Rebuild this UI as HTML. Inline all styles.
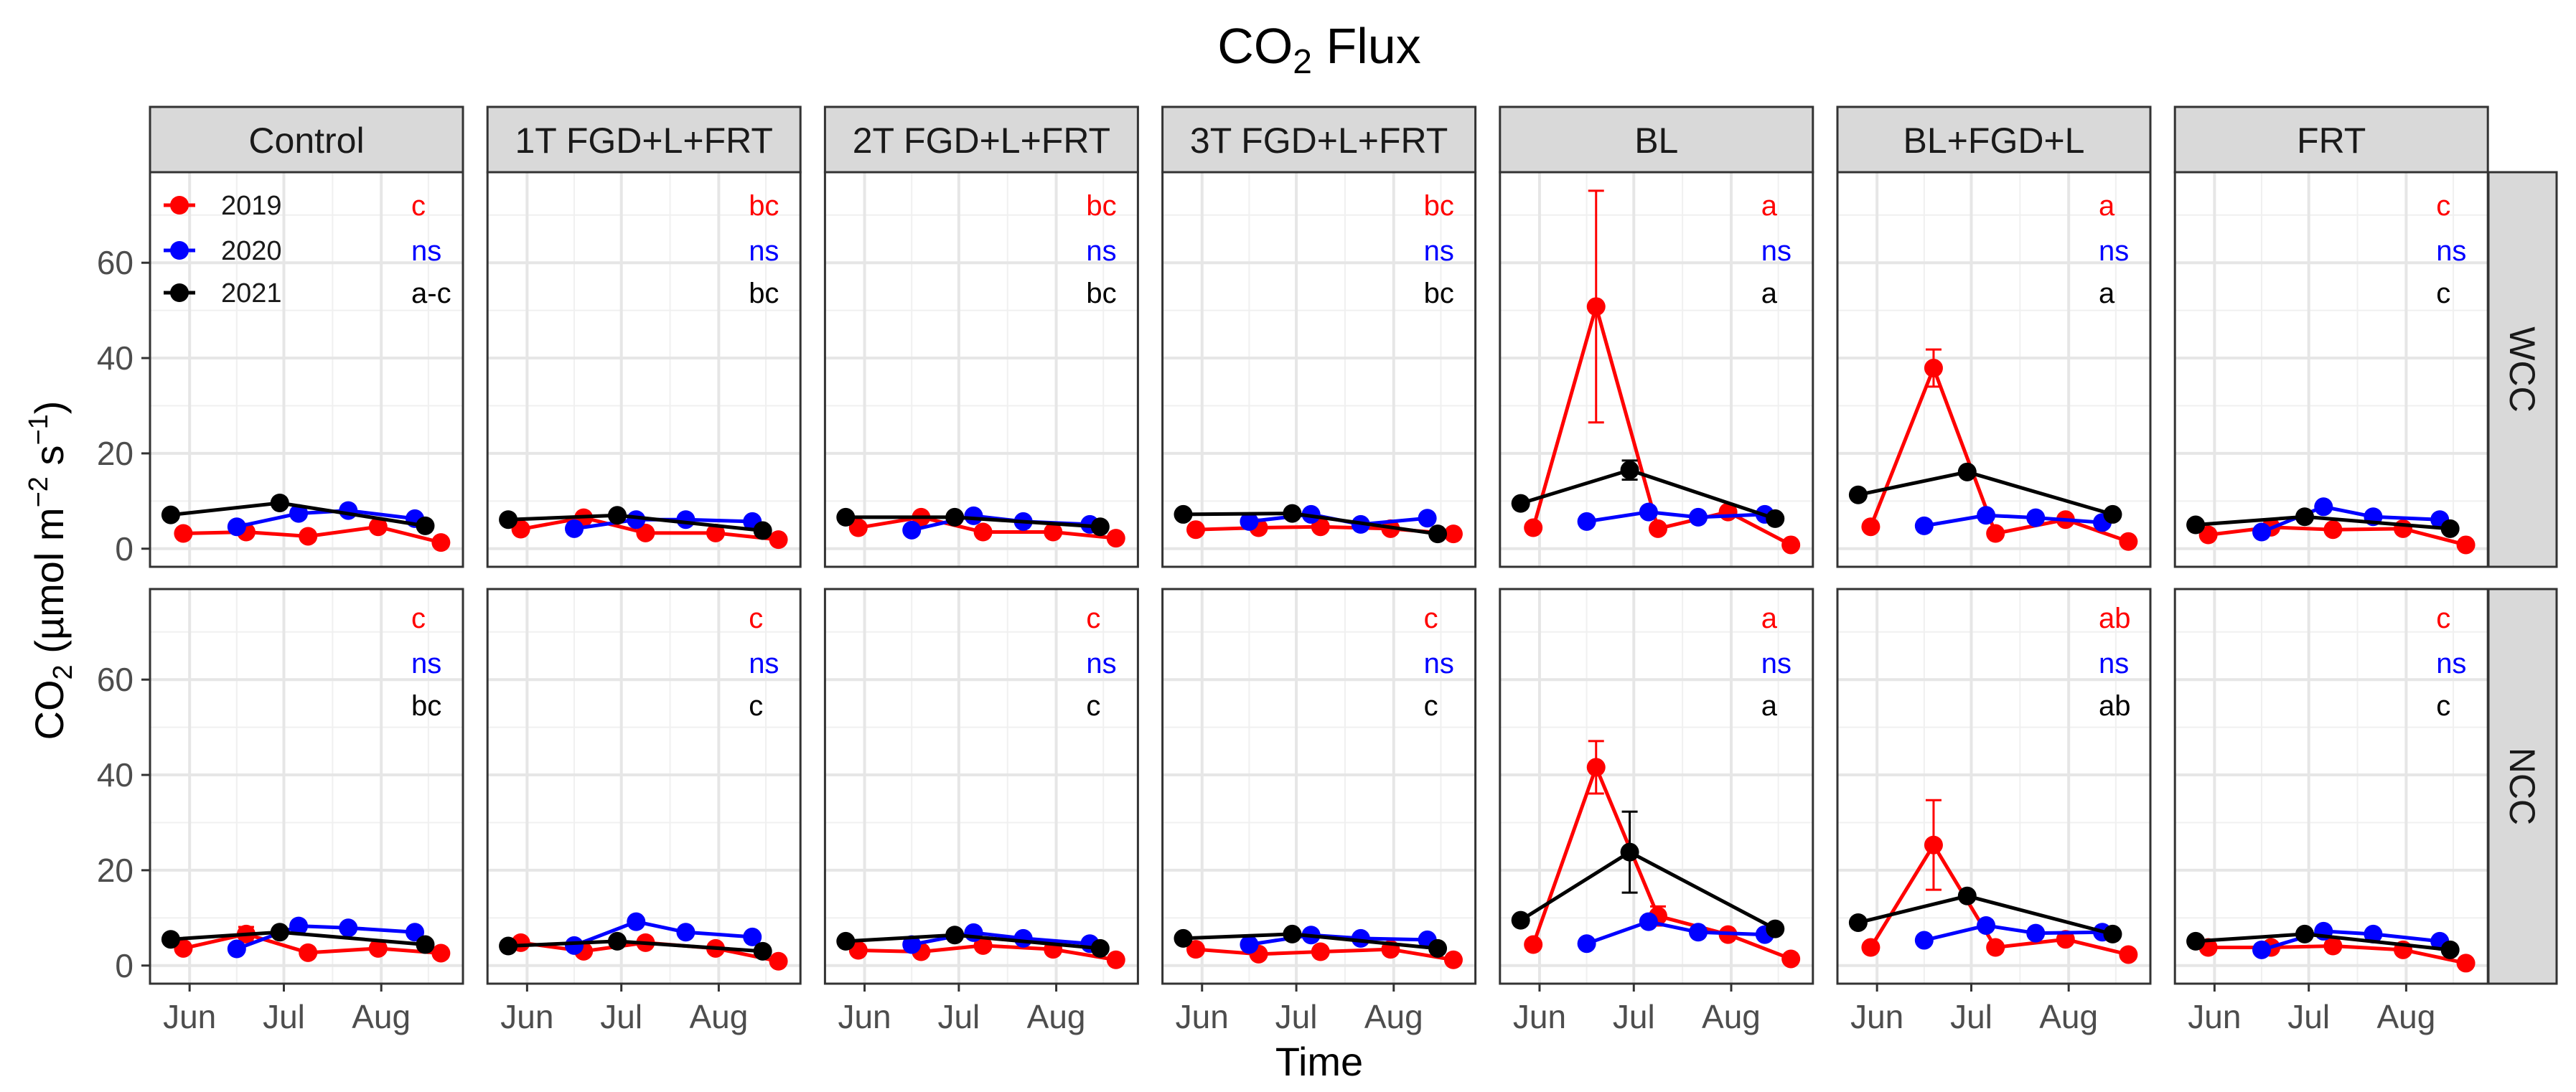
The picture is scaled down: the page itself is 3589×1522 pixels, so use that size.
<!DOCTYPE html>
<html><head><meta charset="utf-8">
<style>
html,body{margin:0;padding:0;background:#fff;}
svg{display:block;font-family:"Liberation Sans",Arial,sans-serif;}
</style></head>
<body>
<svg id="chart" width="3589" height="1522" viewBox="0 0 3589 1522" xmlns="http://www.w3.org/2000/svg">
<rect width="3589" height="1522" fill="#fff"/>
<text x="1838" y="88" font-size="70" text-anchor="middle" fill="#000">CO<tspan font-size="48" dy="14">2</tspan><tspan dy="-14"> Flux</tspan></text>
<text x="1838" y="1499" font-size="56" text-anchor="middle" fill="#000">Time</text>
<text transform="translate(88,795) rotate(-90)" font-size="56" text-anchor="middle" fill="#000">CO<tspan font-size="38" dy="12">2</tspan><tspan dy="-12"> (µmol m</tspan><tspan font-size="38" dy="-22">−2</tspan><tspan dy="22"> s</tspan><tspan font-size="38" dy="-22">−1</tspan><tspan dy="22">)</tspan></text>
<g id="panels"></g>
</svg>
<script>
// ---- data ----
const panelNames = ["Control","1T FGD+L+FRT","2T FGD+L+FRT","3T FGD+L+FRT","BL","BL+FGD+L","FRT"];
const rowNames = ["WCC","NCC"];
// sampling days relative to Jun 1
const days2019 = [-2, 18, 37.7, 60, 80];
const days2020 = [15, 34.7, 50.5, 71.7];
const days2021 = [-6, 28.7, 75];
const yTicks = [0, 20, 40, 60];
const xTickDays = [0, 30, 61];
const xTickLabels = ["Jun","Jul","Aug"];
// WCC row
const wcc2019 = [[3.2,3.5,2.6,4.6,1.3],[4.1,6.5,3.3,3.3,1.9],[4.4,6.6,3.5,3.5,2.2],[4,4.4,4.6,4.2,3.1],[4.4,50.8,4.2,7.7,0.8],[4.6,37.9,3.2,6.1,1.5],[2.9,4.5,4,4.2,0.8]];
const wcc2020 = [[4.6,7.4,8,6.3],[4.2,6.1,6.1,5.7],[3.9,6.9,5.7,5.1],[5.7,7.2,5.1,6.4],[5.7,7.7,6.6,7.2],[4.8,7,6.5,5.5],[3.5,8.8,6.7,6.1]];
const wcc2021 = [[7.1,9.6,4.8],[6.1,7,3.8],[6.6,6.6,4.6],[7.2,7.4,3.1],[9.5,16.5,6.3],[11.3,16.1,7.2],[5,6.7,4.2]];
// NCC row
const ncc2019 = [[3.6,6.6,2.7,3.6,2.6],[4.8,3,4.8,3.6,0.9],[3.2,2.9,4.2,3.4,1.2],[3.4,2.4,2.9,3.4,1.2],[4.4,41.6,10.4,6.5,1.4],[3.8,25.3,3.8,5.5,2.3],[3.8,3.8,4.1,3.3,0.5]];
const ncc2020 = [[3.5,8.3,7.9,7],[4.2,9.2,7,6],[4.4,6.9,5.7,4.6],[4.4,6.4,5.7,5.4],[4.6,9.2,7,6.5],[5.3,8.4,6.8,7],[3.3,7.2,6.6,5.1]];
const ncc2021 = [[5.5,7,4.4],[4.1,5.1,3],[5.1,6.4,3.6],[5.7,6.6,3.6],[9.5,23.8,7.7],[9,14.6,6.6],[5.1,6.6,3.3]];
// standard errors: [row, panel, series(0=2019,1=2020,2=2021), pointIndex, se]
const errorBars = [[0,4,0,1,24.3],[0,5,0,1,3.9],[0,4,2,1,2],[1,4,0,1,5.5],[1,4,0,2,2],[1,0,0,1,1.5],[1,5,0,1,9.4],[1,4,2,1,8.5]];
const letters2019 = [["c","bc","bc","bc","a","a","c"],["c","c","c","c","a","ab","c"]];
const letters2020 = [["ns","ns","ns","ns","ns","ns","ns"],["ns","ns","ns","ns","ns","ns","ns"]];
const letters2021 = [["a-c","bc","bc","bc","a","a","c"],["bc","c","c","c","a","ab","c"]];
const legendYears = ["2019","2020","2021"];

// ---- layout ----
const NS="http://www.w3.org/2000/svg";
const colors=["#ff0000","#0000ff","#000000"];
const P0=209, PW=436, PSTEP=470.2;
const rowTop=[240,821], PH=550;
const yMin=-3.8, yMax=79, dMin=-12.6, dMax=87;
const root=document.getElementById('panels');
function mk(tag,attrs,parent){const e=document.createElementNS(NS,tag);for(const k in attrs)e.setAttribute(k,attrs[k]);(parent||root).appendChild(e);return e;}
function xs(p,d){return P0+p*PSTEP+(d-dMin)/(dMax-dMin)*PW;}
function ys(r,v){return rowTop[r]+PH-(v-yMin)/(yMax-yMin)*PH;}
const rowData=[[wcc2019,wcc2020,wcc2021],[ncc2019,ncc2020,ncc2021]];
const dayArr=[days2019,days2020,days2021];
const letterArr=[letters2019,letters2020,letters2021];

for(let p=0;p<panelNames.length;p++){
  const left=P0+p*PSTEP;
  const strip=mk('rect',{x:left,y:149,width:PW,height:91,fill:'#d9d9d9',stroke:'#333',"stroke-width":3});
  
  
  const st=mk('text',{x:left+PW/2,y:213,"font-size":50,"text-anchor":"middle",fill:'#1a1a1a'});
  st.textContent=panelNames[p];
  
  
  for(let r=0;r<2;r++){
    const top=rowTop[r];
    const g=mk('g',{});
    
    
    mk('rect',{x:left,y:top,width:PW,height:PH,fill:'#fff'},g);
    for(let v=10;v<80;v+=20) mk('line',{x1:left,x2:left+PW,y1:ys(r,v),y2:ys(r,v),stroke:'#f0f0f0',"stroke-width":2},g);
    for(const d of [15,45.5,76]) mk('line',{x1:xs(p,d),x2:xs(p,d),y1:top,y2:top+PH,stroke:'#f0f0f0',"stroke-width":2},g);
    for(const v of yTicks) mk('line',{x1:left,x2:left+PW,y1:ys(r,v),y2:ys(r,v),stroke:'#e6e6e6',"stroke-width":4},g);
    for(const d of xTickDays) mk('line',{x1:xs(p,d),x2:xs(p,d),y1:top,y2:top+PH,stroke:'#e6e6e6',"stroke-width":4},g);
    for(let s=0;s<3;s++){
      const vals=rowData[r][s][p], ds=dayArr[s];
      const pts=vals.map((v,i)=>xs(p,ds[i])+','+ys(r,v)).join(' ');
      const ln=mk('polyline',{points:pts,fill:'none',stroke:colors[s],"stroke-width":5,"stroke-linejoin":"round"},g);
      
      
      for(const eb of errorBars){
        if(eb[0]===r&&eb[1]===p&&eb[2]===s){
          const x=xs(p,ds[eb[3]]),v=vals[eb[3]];
          const y1=ys(r,v+eb[4]),y2=ys(r,v-eb[4]);
          const e=mk('path',{d:`M${x},${y1}V${y2}M${x-11},${y1}H${x+11}M${x-11},${y2}H${x+11}`,stroke:colors[s],"stroke-width":3,fill:'none'},g);
          
          
        }
      }
      vals.forEach((v,i)=>{
        const c=mk('circle',{cx:xs(p,ds[i]),cy:ys(r,v),r:13,fill:colors[s]},g);
        
        
      });
      const lt=mk('text',{x:left+364,y:[300,363,422][s]+(r?575:0),"font-size":40,fill:colors[s]},g);
      lt.textContent=letterArr[s][r][p];
      
      
    }
    const border=mk('rect',{x:left,y:top,width:PW,height:PH,fill:'none',stroke:'#333',"stroke-width":3},g);
    
    
  }
  xTickDays.forEach((d,i)=>{
    const x=xs(p,d);
    mk('line',{x1:x,x2:x,y1:1370,y2:1382,stroke:'#333',"stroke-width":3});
    const t=mk('text',{x:x,y:1433,"font-size":46,"text-anchor":"middle",fill:'#4d4d4d'});
    t.textContent=xTickLabels[i];
    
    
  });
}
for(let r=0;r<2;r++){
  yTicks.forEach(v=>{
    const y=ys(r,v);
    mk('line',{x1:197,x2:209,y1:y,y2:y,stroke:'#333',"stroke-width":3});
    const t=mk('text',{x:186,y:y+16,"font-size":46,"text-anchor":"end",fill:'#4d4d4d'});
    t.textContent=v;
    
    
  });
  const rs=mk('rect',{x:3467,y:rowTop[r],width:95,height:PH,fill:'#d9d9d9',stroke:'#333',"stroke-width":3});
  
  
  const rt=mk('text',{transform:`translate(3497,${rowTop[r]+PH/2}) rotate(90)`,"font-size":50,"text-anchor":"middle",fill:'#1a1a1a'});
  rt.textContent=rowNames[r];
  
  
}
legendYears.forEach((yr,i)=>{
  const y=[286,349,408][i];
  const g=mk('g',{});
  
  
  mk('line',{x1:228,x2:272,y1:y,y2:y,stroke:colors[i],"stroke-width":5},g);
  mk('circle',{cx:250,cy:y,r:13,fill:colors[i]},g);
  const t=mk('text',{x:308,y:y+13,"font-size":38,fill:'#1a1a1a'},g);
  t.textContent=yr;
});
</script>
</body></html>
